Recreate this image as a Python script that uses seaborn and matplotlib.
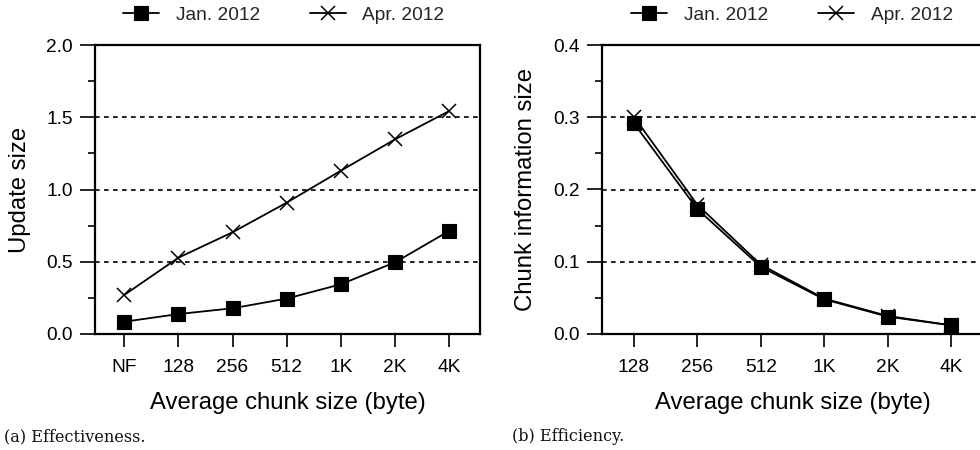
import matplotlib
matplotlib.use("Agg")
import matplotlib.pyplot as plt
import seaborn as sns
import pandas as pd
from matplotlib.ticker import MultipleLocator
from matplotlib.lines import Line2D

# ---- data ----
cats_a = ["NF", "128", "256", "512", "1K", "2K", "4K"]
jan_a = [0.085, 0.138, 0.178, 0.245, 0.344, 0.496, 0.713]
apr_a = [0.270, 0.528, 0.704, 0.909, 1.130, 1.347, 1.543]

cats_b = ["128", "256", "512", "1K", "2K", "4K"]
jan_b = [0.292, 0.173, 0.093, 0.048, 0.024, 0.012]
apr_b = [0.301, 0.179, 0.096, 0.049, 0.025, 0.012]

series_names = ["Jan. 2012", "Apr. 2012"]
xlabel = "Average chunk size (byte)"
ylabel_a = "Update size"
ylabel_b = "Chunk information size"
caption_a = "(a) Effectiveness."
caption_b = "(b) Efficiency."

sns.set_theme(style="ticks")
plt.rcParams["font.family"] = ["Liberation Sans", "DejaVu Sans"]

W, H = 980, 450
fig = plt.figure(figsize=(W / 100, H / 100), dpi=100)

def frac_box(x0, x1, ytop, ybot):
    return [x0 / W, 1 - ybot / H, (x1 - x0) / W, (ybot - ytop) / H]

ax_a = fig.add_axes(frac_box(95, 480, 45, 334))
ax_b = fig.add_axes(frac_box(602, 983, 45, 334))

mk = dict(color="black", linewidth=1.3)
sq = dict(marker="s", markersize=9.4, markeredgewidth=0.8, markeredgecolor="black",
          markerfacecolor="black")
xx = dict(marker="x", markersize=9.4, markeredgewidth=1.1, markeredgecolor="black")

def draw(ax, cats, jan, apr, ymax, ystep, yminor, xlim, ylab, ylab_x):
    df_j = pd.DataFrame({"cat": cats, "val": jan})
    df_p = pd.DataFrame({"cat": cats, "val": apr})
    sns.lineplot(data=df_p, x="cat", y="val", ax=ax, sort=False, **mk, **xx)
    sns.lineplot(data=df_j, x="cat", y="val", ax=ax, sort=False, **mk, **sq)
    ax.set_xlim(*xlim)
    ax.set_ylim(0, ymax)
    ax.yaxis.set_major_locator(MultipleLocator(ystep))
    ax.yaxis.set_minor_locator(MultipleLocator(yminor))
    ax.yaxis.set_major_formatter(matplotlib.ticker.FormatStrFormatter("%.1f"))
    for s in ax.spines.values():
        s.set_linewidth(1.6)
        s.set_color("black")
    ax.tick_params(axis="y", which="major", length=10.8, width=1.2, labelsize=13.8,
                   pad=5, colors="black", direction="out")
    ax.tick_params(axis="y", which="minor", length=5, width=1.2, direction="out", color="black")
    ax.tick_params(axis="x", which="major", length=9, width=1.2, labelsize=13.8,
                   pad=9, colors="black", direction="out")
    for yv in [ystep * k for k in range(1, int(round(ymax / ystep)))]:
        ax.axhline(yv, color="black", linewidth=1.2, linestyle=(0, (2.8, 2.6)), zorder=0.5)
    ax.set_xlabel(xlabel, fontsize=17.2, color="black")
    ax.set_ylabel(ylab, fontsize=17.2, color="black")
    ax.xaxis.set_label_coords(0.5, -0.2)
    ax.yaxis.set_label_coords(ylab_x, 0.5)
    ax.set_facecolor("white")
    if ax.get_legend():
        ax.get_legend().remove()

draw(ax_a, cats_a, jan_a, apr_a, 2.0, 0.5, 0.25, (-0.54, 6.57), ylabel_a, (31 - 95) / 385)
draw(ax_b, cats_b, jan_b, apr_b, 0.4, 0.1, 0.05, (-0.5, 5.5), ylabel_b, (537 - 602) / 381)

handles = [Line2D([], [], **mk, **sq), Line2D([], [], **mk, **xx)]
for x0 in (123, 631):
    fig.legend(handles, series_names, loc="center left",
               bbox_to_anchor=(x0 / W, 1 - 15 / H), ncol=2, frameon=False,
               fontsize=13.8, handlelength=1.9, handletextpad=0.85,
               columnspacing=2.6, borderpad=0, borderaxespad=0)

fig.text(4 / W, 1 - 441 / H, caption_a, fontsize=11.6, family="DejaVu Serif",
         va="baseline", ha="left", color="#111111")
fig.text(512 / W, 1 - 441 / H, caption_b, fontsize=11.6, family="DejaVu Serif",
         va="baseline", ha="left", color="#111111")

fig.savefig("out.png", dpi=100, facecolor="white")
